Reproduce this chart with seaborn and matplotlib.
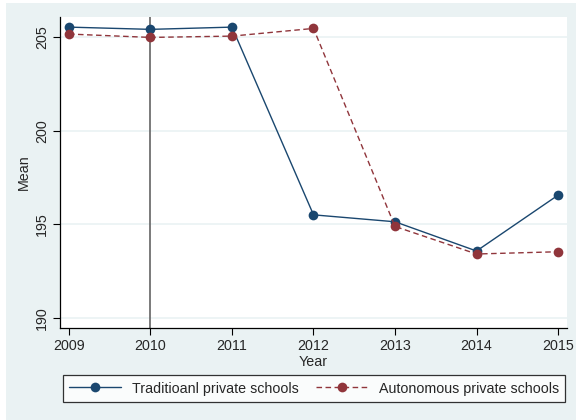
import matplotlib
matplotlib.use("Agg")
import matplotlib.pyplot as plt
from matplotlib.patches import Rectangle
import seaborn as sns
import pandas as pd

years = [2009, 2010, 2011, 2012, 2013, 2014, 2015]
traditional = [205.53, 205.41, 205.53, 195.51, 195.14, 193.58, 196.56]
autonomous = [205.16, 204.98, 205.05, 205.46, 194.89, 193.42, 193.54]
series_names = ["Traditioanl private schools", "Autonomous private schools"]
y_ticks = [190, 195, 200, 205]

df = pd.DataFrame({
    "Year": years * 2,
    "Mean": traditional + autonomous,
    "group": [series_names[0]] * len(years) + [series_names[1]] * len(years),
})

sns.set_theme(style="white")
plt.rcParams["font.family"] = ["Liberation Sans", "DejaVu Sans"]

bg = "#EAF2F3"
navy = "#1A476F"
maroon = "#90353B"

fig = plt.figure(figsize=(5.76, 4.2), dpi=100, facecolor="white")
fig.patches.append(Rectangle((6 / 576, 0), 1 - 6 / 576, 417 / 420,
                             transform=fig.transFigure, facecolor=bg,
                             edgecolor="none", zorder=-10))
ax = fig.add_axes([60 / 576, 1 - 328 / 420, (567 - 60) / 576, (328 - 17) / 420])
ax.set_facecolor("white")

for yv in y_ticks:
    ax.axhline(yv, color=bg, lw=1.2, zorder=0)
ax.axvline(2010, color="#6f6f6f", lw=1.3, zorder=1)

sns.lineplot(data=df, x="Year", y="Mean", hue="group", style="group",
             hue_order=series_names, style_order=series_names,
             palette=[navy, maroon], dashes=[(None, None), (4, 2.5)],
             markers=["o", "o"], markersize=7, markeredgewidth=0,
             linewidth=1.0, ax=ax, legend=False, zorder=3)

ax.set_xlim(2008.89, 2015.11)
ax.set_ylim(189.47, 206.07)
ax.set_xticks(years)
ax.set_yticks(y_ticks)
ax.tick_params(axis="both", which="both", length=5, width=0.8, color="black",
               labelsize=10.3, pad=3, direction="out", bottom=True, left=True)
for lbl in ax.get_yticklabels():
    lbl.set_rotation(90)
    lbl.set_va("center")
ax.set_xlabel("Year", fontsize=10.3, labelpad=1)
ax.set_ylabel("Mean", fontsize=10.3, labelpad=3)

for side in ["top", "right"]:
    ax.spines[side].set_visible(False)
for side in ["left", "bottom"]:
    ax.spines[side].set_color("black")
    ax.spines[side].set_linewidth(0.9)

handles = [
    plt.Line2D([], [], color=navy, lw=1.0, marker="o", markersize=7, markeredgewidth=0),
    plt.Line2D([], [], color=maroon, lw=1.0, ls=(0, (4, 2.5)), marker="o", markersize=7, markeredgewidth=0),
]
leg = fig.legend(handles, series_names, ncol=2, loc="center",
                 bbox_to_anchor=(314 / 576, 1 - 388.5 / 420), fontsize=10.3,
                 frameon=True, fancybox=False, edgecolor="black",
                 handlelength=3.6, columnspacing=1.2, borderpad=0.45,
                 handletextpad=0.8)
leg.get_frame().set_linewidth(0.9)
leg.get_frame().set_facecolor("white")

fig.savefig("out.png", dpi=100, facecolor=fig.get_facecolor())
